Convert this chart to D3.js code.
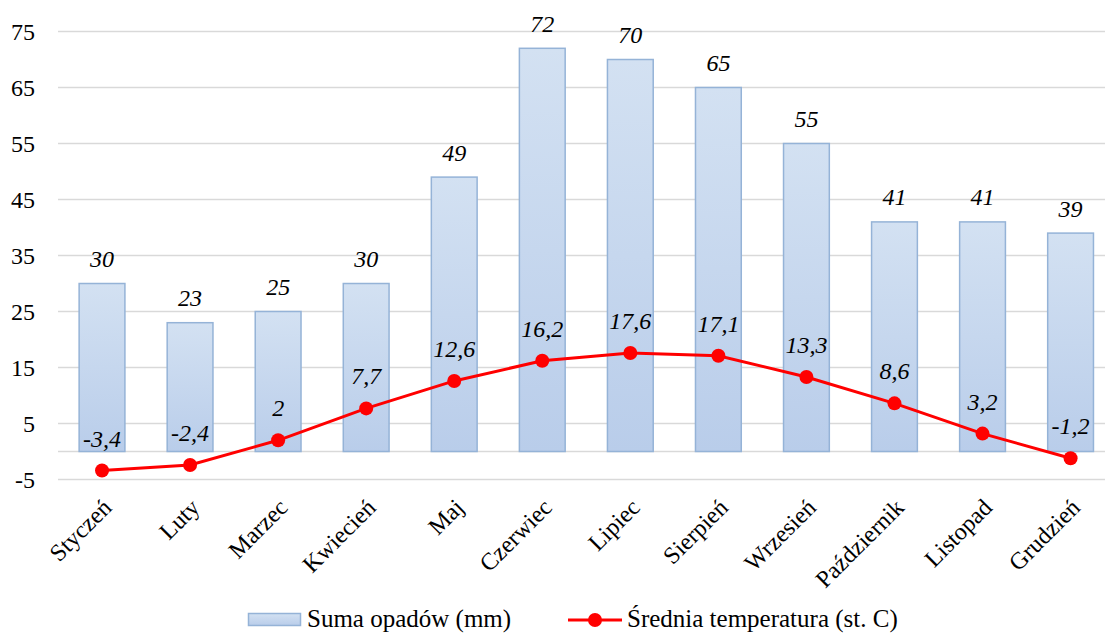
<!DOCTYPE html>
<html lang="pl">
<head>
<meta charset="utf-8">
<script src="https://cdn.jsdelivr.net/npm/d3@7"></script>
<style>
  html, body { margin: 0; padding: 0; background: #fff; }
  svg { display: block; font-family: "Liberation Serif", "DejaVu Serif", serif; }
</style>
</head>
<body>
<svg id="chart" width="1105" height="633"></svg>
<script>
// Miesiące
const months = ["Styczeń", "Luty", "Marzec", "Kwiecień", "Maj", "Czerwiec",
  "Lipiec", "Sierpień", "Wrzesień", "Październik", "Listopad", "Grudzień"];
// Suma opadów (mm)
const precipitation = [30, 23, 25, 30, 49, 72, 70, 65, 55, 41, 41, 39];
// Średnia temperatura (st. C)
const temperature = [-3.4, -2.4, 2, 7.7, 12.6, 16.2, 17.6, 17.1, 13.3, 8.6, 3.2, -1.2];
// Podziałka osi pionowej
const yTicks = [-5, 5, 15, 25, 35, 45, 55, 65, 75];
const seriesNames = ["Suma opadów (mm)", "Średnia temperatura (st. C)"];

const fmt = v => String(v).replace(".", ",");

const svg = d3.select("#chart");

const x = d3.scaleBand()
  .domain(months)
  .range([58, 58 + 12 * 88.05])
  .paddingInner(0.48)
  .paddingOuter(0.24);

const y = d3.scaleLinear().domain([-5, 75]).range([479.5, 31.5]);

// Gradient słupków
const defs = svg.append("defs");
const grad = defs.append("linearGradient")
  .attr("id", "barGrad").attr("x1", 0).attr("y1", 0).attr("x2", 0).attr("y2", 1);
grad.append("stop").attr("offset", "0%").attr("stop-color", "#d3e1f2");
grad.append("stop").attr("offset", "100%").attr("stop-color", "#b9cdea");

// Linie siatki
const gridVals = yTicks.concat([0]);
svg.append("g").selectAll("line")
  .data(gridVals)
  .join("line")
  .attr("x1", 58).attr("x2", 1105)
  .attr("y1", d => y(d)).attr("y2", d => y(d))
  .attr("stroke", "#d9d9d9")
  .attr("stroke-width", 1.4);

// Oś pionowa
const yAxis = d3.axisLeft(y).tickValues(yTicks).tickSize(0).tickPadding(0).tickFormat(d => d);
svg.append("g")
  .attr("transform", "translate(35,0)")
  .call(yAxis)
  .call(g => g.select(".domain").remove())
  .call(g => g.selectAll("text")
    .attr("font-family", "Liberation Serif")
    .attr("font-size", 24)
    .attr("fill", "#000")
    .attr("dy", "0.33em"));

// Słupki opadów
svg.append("g").selectAll("rect")
  .data(months)
  .join("rect")
  .attr("x", d => x(d))
  .attr("width", x.bandwidth())
  .attr("y", (d, i) => y(precipitation[i]))
  .attr("height", (d, i) => y(0) - y(precipitation[i]))
  .attr("fill", "url(#barGrad)")
  .attr("stroke", "#95b3d7")
  .attr("stroke-width", 1.5);

// Etykiety opadów
svg.append("g").selectAll("text")
  .data(months)
  .join("text")
  .attr("x", d => x(d) + x.bandwidth() / 2)
  .attr("y", (d, i) => y(precipitation[i]) - 16.5)
  .attr("text-anchor", "middle")
  .attr("font-style", "italic")
  .attr("font-size", 24)
  .attr("fill", "#000")
  .text((d, i) => fmt(precipitation[i]));

// Linia temperatury
const cx = d => x(d) + x.bandwidth() / 2;
const line = d3.line()
  .x((d, i) => cx(months[i]))
  .y(d => y(d));

svg.append("path")
  .datum(temperature)
  .attr("d", line)
  .attr("fill", "none")
  .attr("stroke", "#ff0000")
  .attr("stroke-width", 3);

svg.append("g").selectAll("circle")
  .data(temperature)
  .join("circle")
  .attr("cx", (d, i) => cx(months[i]))
  .attr("cy", d => y(d))
  .attr("r", 7)
  .attr("fill", "#ff0000");

// Etykiety temperatury
svg.append("g").selectAll("text")
  .data(temperature)
  .join("text")
  .attr("x", (d, i) => cx(months[i]))
  .attr("y", d => y(d) - 24)
  .attr("text-anchor", "middle")
  .attr("font-style", "italic")
  .attr("font-size", 24)
  .attr("fill", "#000")
  .text(d => fmt(d));

// Etykiety miesięcy
svg.append("g").selectAll("text")
  .data(months)
  .join("text")
  .attr("transform", d => `translate(${cx(d) + 11},${509}) rotate(-45)`)
  .attr("text-anchor", "end")
  .attr("font-size", 24)
  .attr("fill", "#000")
  .text(d => d);

// Legenda
const leg = svg.append("g");
leg.append("rect")
  .attr("x", 248.5).attr("y", 613.5).attr("width", 52).attr("height", 12)
  .attr("fill", "url(#barGrad)").attr("stroke", "#95b3d7").attr("stroke-width", 1.5);
leg.append("text")
  .attr("x", 307).attr("y", 627)
  .attr("font-size", 25).attr("fill", "#000")
  .text(seriesNames[0]);
leg.append("line")
  .attr("x1", 568).attr("x2", 622).attr("y1", 620).attr("y2", 620)
  .attr("stroke", "#ff0000").attr("stroke-width", 3);
leg.append("circle")
  .attr("cx", 595).attr("cy", 620).attr("r", 7).attr("fill", "#ff0000");
leg.append("text")
  .attr("x", 627).attr("y", 627)
  .attr("font-size", 25).attr("fill", "#000")
  .text(seriesNames[1]);
</script>
</body>
</html>
